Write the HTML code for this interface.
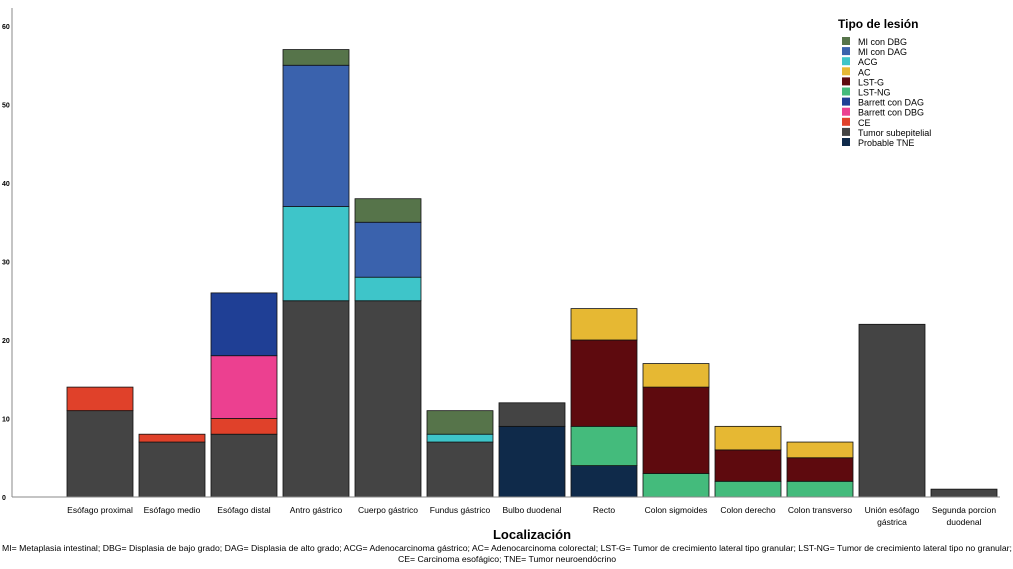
<!DOCTYPE html>
<html><head><meta charset="utf-8"><style>
body{margin:0;background:#fff;font-family:"Liberation Sans",sans-serif}
svg text{font-family:"Liberation Sans",sans-serif}
</style></head><body>
<svg id="chart" width="1013" height="564">
<g id="bars"></g>
<line x1="12" y1="8" x2="12" y2="497" stroke="#888" stroke-width="1"/>
<line x1="12" y1="497" x2="1000" y2="497" stroke="#888" stroke-width="1"/>
<g id="yticks"></g>
<g id="xlabels"></g>
<text x="532" y="539" text-anchor="middle" font-size="13" font-weight="bold">Localización</text>
<text x="507" y="551" text-anchor="middle" font-size="8.7">MI= Metaplasia intestinal; DBG= Displasia de bajo grado; DAG= Displasia de alto grado; ACG= Adenocarcinoma gástrico; AC= Adenocarcinoma colorectal; LST-G= Tumor de crecimiento lateral tipo granular; LST-NG= Tumor de crecimiento lateral tipo no granular;</text>
<text x="507" y="562" text-anchor="middle" font-size="8.7">CE= Carcinoma esofágico; TNE= Tumor neuroendócrino</text>
<g id="legend">
<text x="838" y="28" font-size="12" font-weight="bold">Tipo de lesión</text>
</g>
</svg>
<script>
const categories=[["Esófago proximal"],["Esófago medio"],["Esófago distal"],["Antro gástrico"],["Cuerpo gástrico"],["Fundus gástrico"],["Bulbo duodenal"],["Recto"],["Colon sigmoides"],["Colon derecho"],["Colon transverso"],["Unión esófago","gástrica"],["Segunda porcion","duodenal"]];
const seriesNames=["Probable TNE","Tumor subepitelial","LST-NG","LST-G","AC","CE","Barrett con DBG","Barrett con DAG","ACG","MI con DAG","MI con DBG"];
const seriesColors=["#0f2a4a","#444444","#44bb7c","#5e0a0e","#e6b833","#e0412a","#ec4090","#1f3f95","#3ec5c9","#3a62ad","#56744a"];
const tne=[0,0,0,0,0,0,9,4,0,0,0,0,0];
const tumor=[11,7,8,25,25,7,3,0,0,0,0,22,1];
const lstng=[0,0,0,0,0,0,0,5,3,2,2,0,0];
const lstg=[0,0,0,0,0,0,0,11,11,4,3,0,0];
const ac=[0,0,0,0,0,0,0,4,3,3,2,0,0];
const ce=[3,1,2,0,0,0,0,0,0,0,0,0,0];
const barrettDbg=[0,0,8,0,0,0,0,0,0,0,0,0,0];
const barrettDag=[0,0,8,0,0,0,0,0,0,0,0,0,0];
const acg=[0,0,0,12,3,1,0,0,0,0,0,0,0];
const miDag=[0,0,0,18,7,0,0,0,0,0,0,0,0];
const miDbg=[0,0,0,2,3,3,0,0,0,0,0,0,0];
const yTicks=[0,10,20,30,40,50,60];
const series=[tne,tumor,lstng,lstg,ac,ce,barrettDbg,barrettDag,acg,miDag,miDbg];
const NS="http://www.w3.org/2000/svg";
const y=v=>497-v*7.85;
const xc=i=>100+i*72.0;
const bw=66;
function mk(t,a){const e=document.createElementNS(NS,t);for(const k in a)e.setAttribute(k,a[k]);return e;}
const bars=document.getElementById('bars');
categories.forEach((c,i)=>{let acc=0;series.forEach((s,j)=>{const v=s[i];if(!v)return;
const r=mk('rect',{x:xc(i)-bw/2,y:y(acc+v),width:bw,height:y(acc)-y(acc+v),fill:seriesColors[j],stroke:'#111','stroke-width':0.8});


bars.appendChild(r);acc+=v;});});
const yt=document.getElementById('yticks');
yTicks.forEach(t=>{const e=mk('text',{x:2,y:y(t)+3,'font-size':7,'font-weight':'bold'});e.textContent=t;


yt.appendChild(e);});
const xl=document.getElementById('xlabels');
categories.forEach((c,i)=>{c.forEach((l,k)=>{const e=mk('text',{x:xc(i),y:513+k*12,'text-anchor':'middle','font-size':8.5});e.textContent=l;


xl.appendChild(e);});});
const lg=document.getElementById('legend');
const order=[10,9,8,4,3,2,7,6,5,1,0];
order.forEach((j,k)=>{const yy=37+k*10.1;
const r=mk('rect',{x:842,y:yy,width:8,height:8,fill:seriesColors[j]});


lg.appendChild(r);
const t=mk('text',{x:858,y:yy+8,'font-size':9});t.textContent=seriesNames[j];


lg.appendChild(t);});
</script>
</body></html>
